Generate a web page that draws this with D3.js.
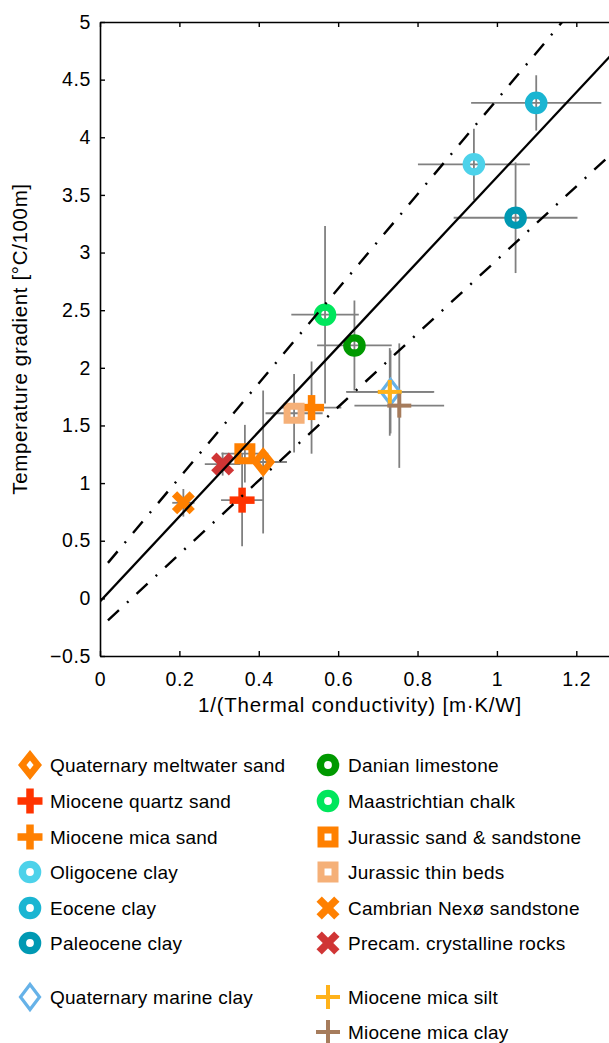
<!DOCTYPE html>
<html>
<head>
<meta charset="utf-8">
<script src="https://cdn.jsdelivr.net/npm/d3@7"></script>
<style>
  body { margin: 0; background: #fff; }
  text { font-family: "Liberation Sans", Arial, sans-serif; fill: #000; }
</style>
</head>
<body>
<svg id="chart" width="609" height="1043"></svg>
<script>
// rock units, in legend order
var names = [
  "Quaternary meltwater sand", "Miocene quartz sand", "Miocene mica sand",
  "Oligocene clay", "Eocene clay", "Paleocene clay", "Quaternary marine clay",
  "Danian limestone", "Maastrichtian chalk", "Jurassic sand & sandstone",
  "Jurassic thin beds", "Cambrian Nexø sandstone", "Precam. crystalline rocks",
  "Miocene mica silt", "Miocene mica clay"
];
// 1/k [m·K/W]
var xVals = [0.411, 0.358, 0.533, 0.942, 1.099, 1.047, 0.732, 0.641, 0.567, 0.365, 0.489, 0.210, 0.309, 0.730, 0.754];
var xErr  = [0.060, 0.053, 0.075, 0.141, 0.164, 0.156, 0.110, 0.094, 0.085, 0.059, 0.072, 0.028, 0.045, 0.110, 0.113];
// temperature gradient [°C/100m]
var yVals = [1.183, 0.852, 1.655, 3.765, 4.298, 3.302, 1.791, 2.194, 2.461, 1.255, 1.606, 0.829, 1.165, 1.791, 1.672];
var yErr  = [0.62, 0.40, 0.40, 0.31, 0.24, 0.48, 0.36, 0.39, 0.77, 0.25, 0.34, 0.12, 0.10, 0.38, 0.54];

// regression line and the two dash-dot bounds: [intercept, slope]
var fitLine   = [-0.026, 3.68];
var upperLine = [0.226, 4.10];
var lowerLine = [-0.254, 3.19];

var xTicks = [0, 0.2, 0.4, 0.6, 0.8, 1, 1.2];
var yTicks = [-0.5, 0, 0.5, 1, 1.5, 2, 2.5, 3, 3.5, 4, 4.5, 5];

// marker look per unit
var colors = ["#ff8000", "#ff3300", "#ff8000", "#4dd2ea", "#1ab5d2", "#0099b3", "#66b2e8",
              "#009900", "#00e65c", "#ff8000", "#f5b078", "#ff8000", "#d03535", "#ffb21a", "#a67c5c"];
var shapes = ["diamond", "plus", "plus", "ring", "ring", "ring", "hollowDiamond",
              "ring", "ring", "square", "square", "cross", "cross", "thinPlus", "thinPlus"];

var svg = d3.select("#chart");
var x = d3.scaleLinear().domain([0, 1.3]).range([100, 616]);
var y = d3.scaleLinear().domain([-0.5, 5]).range([656, 22]);

var fmt = function(d) { return String(d).replace("-", "\u2212"); };

// draw one marker at (cx, cy)
function marker(g, shape, color, cx, cy) {
  var m = g.append("g").attr("transform", "translate(" + cx + "," + cy + ")");
  if (shape == "ring") {
    m.append("circle").attr("r", 7.6).attr("fill", "none")
      .attr("stroke", color).attr("stroke-width", 7.4);
  } else if (shape == "diamond") {
    m.append("path")
      .attr("d", "M0,-15L12,0L0,15L-12,0Z M0,-4.5L3.6,0L0,4.5L-3.6,0Z")
      .attr("fill", color).attr("fill-rule", "evenodd");
  } else if (shape == "hollowDiamond") {
    m.append("path").attr("d", "M0,-12.5L9.5,0L0,12.5L-9.5,0Z")
      .attr("fill", "none").attr("stroke", color).attr("stroke-width", 3.2);
  } else if (shape == "square") {
    m.append("path")
      .attr("d", "M-10.5,-10.5H10.5V10.5H-10.5Z M-3.5,-3.5V3.5H3.5V-3.5Z")
      .attr("fill", color).attr("fill-rule", "evenodd");
  } else if (shape == "plus" || shape == "cross" || shape == "thinPlus") {
    var t = shape == "thinPlus" ? 4 : 7.5;
    var L = shape == "thinPlus" ? 24 : 25;
    var p = m.append("g").attr("fill", color);
    if (shape == "cross") p.attr("transform", "rotate(45)");
    p.append("rect").attr("x", -L / 2).attr("y", -t / 2).attr("width", L).attr("height", t);
    p.append("rect").attr("x", -t / 2).attr("y", -L / 2).attr("width", t).attr("height", L);
  }
}

svg.append("defs").append("clipPath").attr("id", "plotArea")
  .append("rect").attr("x", 100).attr("y", 22).attr("width", 516).attr("height", 634);

var plot = svg.append("g").attr("clip-path", "url(#plotArea)");
var idx = d3.range(names.length);

// error bars
var bars = plot.append("g").attr("stroke", "#808080").attr("stroke-width", 1.8);
bars.selectAll(".xbar").data(idx).enter().append("line")
  .attr("x1", function(i) { return x(xVals[i] - xErr[i]); })
  .attr("x2", function(i) { return x(xVals[i] + xErr[i]); })
  .attr("y1", function(i) { return y(yVals[i]); })
  .attr("y2", function(i) { return y(yVals[i]); });
bars.selectAll(".ybar").data(idx).enter().append("line")
  .attr("x1", function(i) { return x(xVals[i]); })
  .attr("x2", function(i) { return x(xVals[i]); })
  .attr("y1", function(i) { return y(yVals[i] - yErr[i]); })
  .attr("y2", function(i) { return y(yVals[i] + yErr[i]); });

// markers
var pts = plot.append("g");
idx.forEach(function(i) { marker(pts, shapes[i], colors[i], x(xVals[i]), y(yVals[i])); });

// fit lines
function lineFor(c, x0) {
  return d3.line()([[x(x0), y(c[0] + c[1] * x0)], [x(1.3), y(c[0] + c[1] * 1.3)]]);
}
plot.append("path").attr("d", lineFor(fitLine, 0))
  .attr("stroke", "#000").attr("stroke-width", 2.3).attr("fill", "none");
[upperLine, lowerLine].forEach(function(c) {
  plot.append("path").attr("d", lineFor(c, 0.02))
    .attr("stroke", "#000").attr("stroke-width", 2.4).attr("fill", "none")
    .attr("stroke-dasharray", "15,11,2,11");
});

// axes (MATLAB style box, ticks pointing in)
var axes = svg.append("g");
axes.append("g").attr("transform", "translate(0,656)")
  .call(d3.axisBottom(x).tickValues(xTicks).tickSize(-5).tickSizeOuter(0).tickPadding(16).tickFormat(fmt));
axes.append("g").attr("transform", "translate(0,22)")
  .call(d3.axisTop(x).tickValues(xTicks).tickSize(-5).tickSizeOuter(0).tickFormat(""));
axes.append("g").attr("transform", "translate(100,0)")
  .call(d3.axisLeft(y).tickValues(yTicks).tickSize(-5).tickSizeOuter(0).tickPadding(9).tickFormat(fmt));
axes.selectAll(".domain").attr("stroke", "#000").attr("stroke-width", 1.6);
axes.selectAll(".tick line").attr("stroke", "#000").attr("stroke-width", 1.4);
axes.selectAll("text").attr("font-family", null).attr("font-size", 19.5)
  .attr("letter-spacing", "0.6px").attr("fill", "#000");

svg.append("text").attr("x", 360).attr("y", 712).attr("text-anchor", "middle")
  .attr("font-size", 20.5).attr("letter-spacing", "0.8px")
  .text("1/(Thermal conductivity) [m\u00b7K/W]");
svg.append("text").attr("transform", "translate(27,339) rotate(-90)")
  .attr("text-anchor", "middle").attr("font-size", 20.5).attr("letter-spacing", "0.65px")
  .text("Temperature gradient [\u00b0C/100m]");

// legend: two columns, blank row before the last group
var legendCols = [[0, 1, 2, 3, 4, 5, null, 6], [7, 8, 9, 10, 11, 12, null, 13, 14]];
var colX = [30, 328];
var rowY = [765, 801, 837, 872, 908, 943, null, 997, 1032];
var legend = svg.append("g");
legendCols.forEach(function(col, c) {
  col.forEach(function(i, r) {
    if (i === null) return;
    marker(legend, shapes[i], colors[i], colX[c], rowY[r]);
    legend.append("text").attr("x", colX[c] + 20).attr("y", rowY[r]).attr("dy", "0.36em")
      .attr("font-size", 19).attr("letter-spacing", "0.25px").text(names[i]);
  });
});
</script>
</body>
</html>
